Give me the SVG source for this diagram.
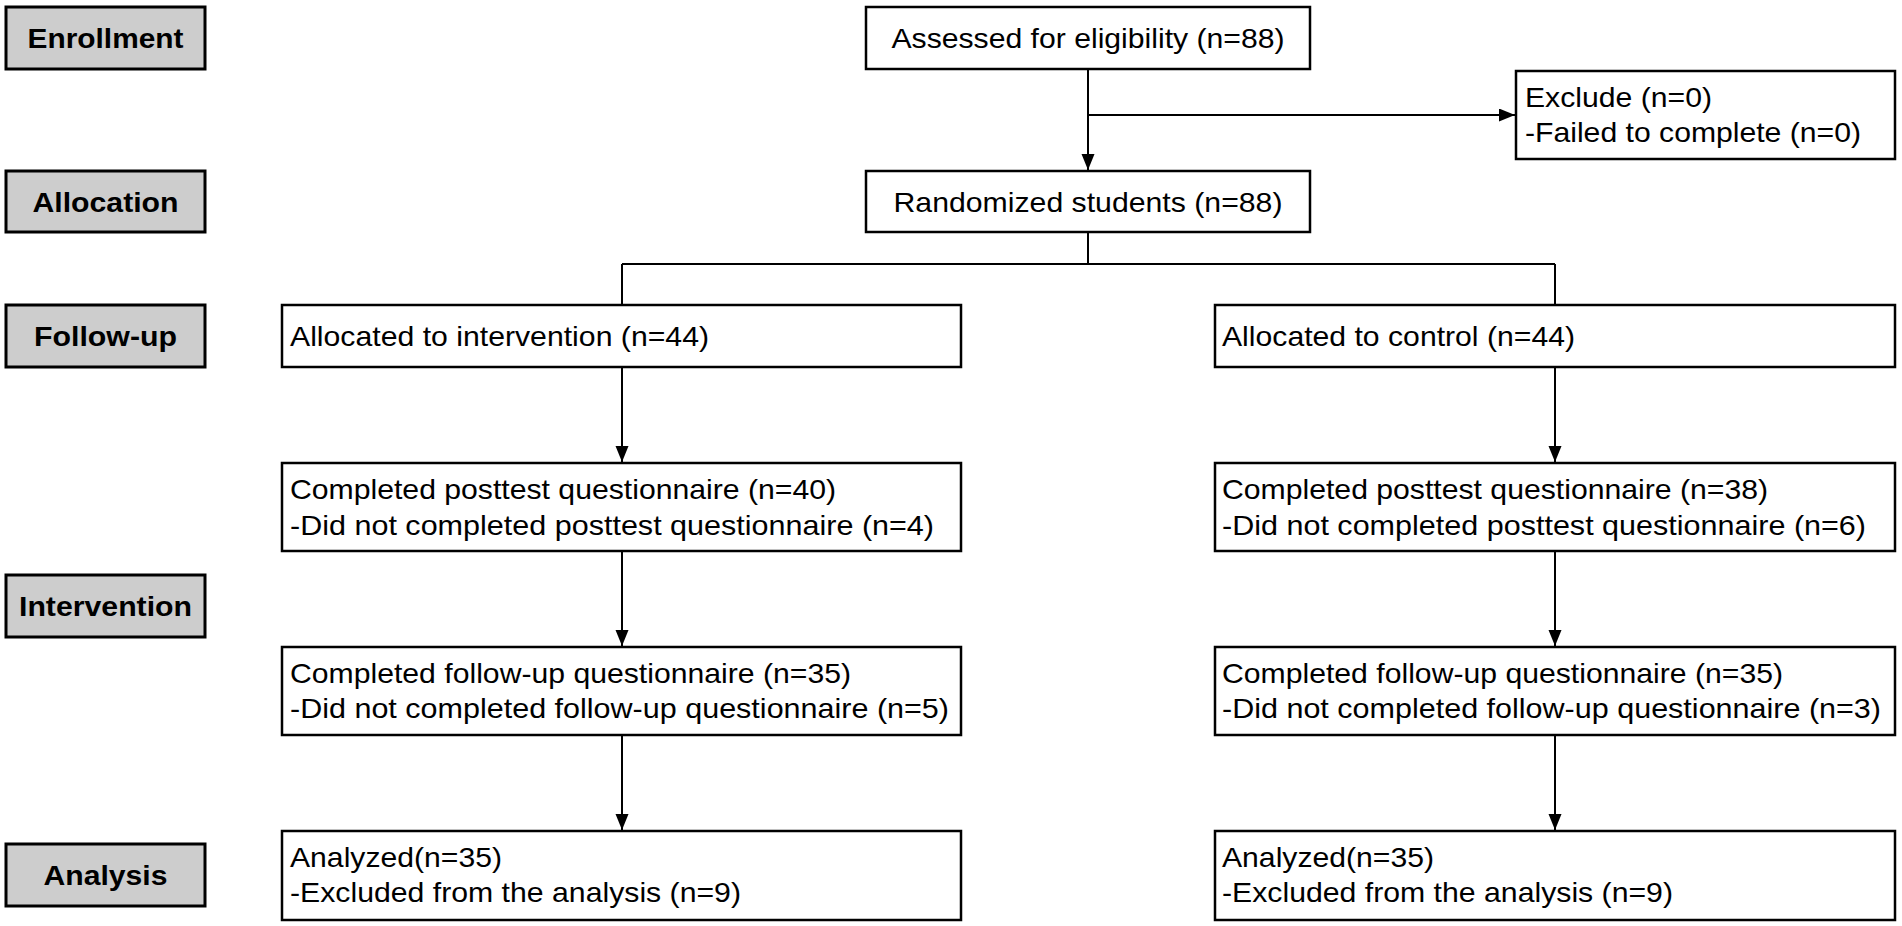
<svg xmlns="http://www.w3.org/2000/svg" width="1902" height="926" viewBox="0 0 1902 926">
<style>
.lab rect{fill:#cdcdcd;stroke:#000;stroke-width:3}
.box rect{fill:#fff;stroke:#000;stroke-width:2.5}
text{font-family:"Liberation Sans",Arial,sans-serif;font-size:28px;fill:#000}
.lab text{font-weight:bold;text-anchor:middle}
.c{text-anchor:middle}
.con path{fill:none;stroke:#000;stroke-width:2}
</style>
<defs>
<marker id="ah" markerUnits="userSpaceOnUse" markerWidth="16" markerHeight="14" refX="16" refY="6.5" orient="auto">
<path d="M0,0 L16,6.5 L0,13 z" fill="#000"/>
</marker>
</defs>
<rect width="1902" height="926" fill="#fff"/>
<g class="con">
<path d="M1088,69 V170" marker-end="url(#ah)"/>
<path d="M1088,115 H1515" marker-end="url(#ah)"/>
<path d="M1088,232 V264 M622,264 H1555 M622,264 V305 M1555,264 V305"/>
<path d="M622,367 V462" marker-end="url(#ah)"/>
<path d="M1555,367 V462" marker-end="url(#ah)"/>
<path d="M622,551 V646" marker-end="url(#ah)"/>
<path d="M1555,551 V646" marker-end="url(#ah)"/>
<path d="M622,735 V830" marker-end="url(#ah)"/>
<path d="M1555,735 V830" marker-end="url(#ah)"/>
</g>
<g id="lab-enrollment" class="lab"><rect x="6" y="7" width="199" height="62"/><text x="105.5" y="48" textLength="156" lengthAdjust="spacingAndGlyphs">Enrollment</text></g>
<g id="lab-allocation" class="lab"><rect x="6" y="171" width="199" height="61"/><text x="105.5" y="212" textLength="146" lengthAdjust="spacingAndGlyphs">Allocation</text></g>
<g id="lab-followup" class="lab"><rect x="6" y="305" width="199" height="62"/><text x="105.5" y="346" textLength="143" lengthAdjust="spacingAndGlyphs">Follow-up</text></g>
<g id="lab-intervention" class="lab"><rect x="6" y="575" width="199" height="62"/><text x="105.5" y="616" textLength="173" lengthAdjust="spacingAndGlyphs">Intervention</text></g>
<g id="lab-analysis" class="lab"><rect x="6" y="844" width="199" height="62"/><text x="105.5" y="885" textLength="124" lengthAdjust="spacingAndGlyphs">Analysis</text></g>
<g id="assessed" class="box"><rect x="866" y="7" width="444" height="62"/><text class="c" x="1088" y="48" textLength="393" lengthAdjust="spacingAndGlyphs">Assessed for eligibility (n=88)</text></g>
<g id="exclude" class="box"><rect x="1516" y="71" width="379" height="88"/><text x="1525" y="107" textLength="187" lengthAdjust="spacingAndGlyphs">Exclude (n=0)</text><text x="1525" y="142" textLength="336" lengthAdjust="spacingAndGlyphs">-Failed to complete (n=0)</text></g>
<g id="randomized" class="box"><rect x="866" y="171" width="444" height="61"/><text class="c" x="1088" y="212" textLength="389" lengthAdjust="spacingAndGlyphs">Randomized students (n=88)</text></g>
<g id="alloc-int" class="box"><rect x="282" y="305" width="679" height="62"/><text x="290" y="346" textLength="419" lengthAdjust="spacingAndGlyphs">Allocated to intervention (n=44)</text></g>
<g id="alloc-ctl" class="box"><rect x="1215" y="305" width="680" height="62"/><text x="1222" y="346" textLength="353" lengthAdjust="spacingAndGlyphs">Allocated to control (n=44)</text></g>
<g id="post-int" class="box"><rect x="282" y="463" width="679" height="88"/><text x="290" y="499" textLength="546" lengthAdjust="spacingAndGlyphs">Completed posttest questionnaire (n=40)</text><text x="290" y="535" textLength="644" lengthAdjust="spacingAndGlyphs">-Did not completed posttest questionnaire (n=4)</text></g>
<g id="post-ctl" class="box"><rect x="1215" y="463" width="680" height="88"/><text x="1222" y="499" textLength="546" lengthAdjust="spacingAndGlyphs">Completed posttest questionnaire (n=38)</text><text x="1222" y="535" textLength="644" lengthAdjust="spacingAndGlyphs">-Did not completed posttest questionnaire (n=6)</text></g>
<g id="fu-int" class="box"><rect x="282" y="647" width="679" height="88"/><text x="290" y="683" textLength="561" lengthAdjust="spacingAndGlyphs">Completed follow-up questionnaire (n=35)</text><text x="290" y="718" textLength="659" lengthAdjust="spacingAndGlyphs">-Did not completed follow-up questionnaire (n=5)</text></g>
<g id="fu-ctl" class="box"><rect x="1215" y="647" width="680" height="88"/><text x="1222" y="683" textLength="561" lengthAdjust="spacingAndGlyphs">Completed follow-up questionnaire (n=35)</text><text x="1222" y="718" textLength="659" lengthAdjust="spacingAndGlyphs">-Did not completed follow-up questionnaire (n=3)</text></g>
<g id="an-int" class="box"><rect x="282" y="831" width="679" height="89"/><text x="290" y="867" textLength="212" lengthAdjust="spacingAndGlyphs">Analyzed(n=35)</text><text x="290" y="902" textLength="451" lengthAdjust="spacingAndGlyphs">-Excluded from the analysis (n=9)</text></g>
<g id="an-ctl" class="box"><rect x="1215" y="831" width="680" height="89"/><text x="1222" y="867" textLength="212" lengthAdjust="spacingAndGlyphs">Analyzed(n=35)</text><text x="1222" y="902" textLength="451" lengthAdjust="spacingAndGlyphs">-Excluded from the analysis (n=9)</text></g>
</svg>
